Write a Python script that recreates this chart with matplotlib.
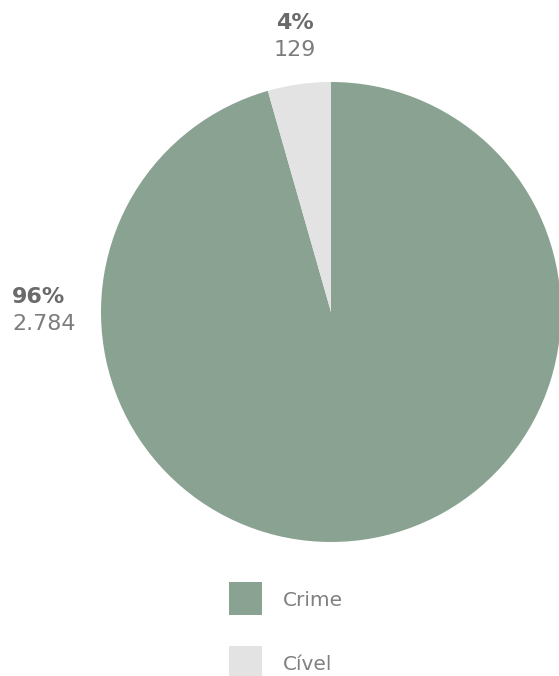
import matplotlib.pyplot as plt
from matplotlib.patches import Rectangle

categorias = ["Crime", "Cível"]
valores = [2784, 129]
cores = ["#8aa291", "#e3e3e3"]

W, H = 559, 676
plt.rcParams['font.family'] = ['DejaVu Sans']

fig = plt.figure(figsize=(W / 100, H / 100), dpi=100)

# eixo da pizza: centro em (331, 312) px, raio 230 px
cx, cy, r = 331, 312, 230
ax = fig.add_axes([(cx - r) / W, 1 - (cy + r) / H, 2 * r / W, 2 * r / H])
wedges, _ = ax.pie(valores, colors=cores, startangle=90, counterclock=False,
                   radius=1, wedgeprops=dict(linewidth=0))
for w in wedges:
    w.set_clip_on(False)
ax.set_xlim(-1, 1)
ax.set_ylim(-1, 1)
ax.set_aspect('equal')
ax.axis('off')

total = sum(valores)
pct = [round(v / total * 100) for v in valores]


def fmt(v):
    return f"{v:,}".replace(",", ".")


def px(x, y):
    return x / W, 1 - y / H


cor_pct = "#6a6a6a"
cor_num = "#7c7c7c"
# rótulo Cível (acima)
fig.text(*px(295, 23), f"{pct[1]}%", ha='center', va='center',
         fontsize=16, fontweight='bold', color=cor_pct)
fig.text(*px(295, 50), fmt(valores[1]), ha='center', va='center',
         fontsize=16, color=cor_num)
# rótulo Crime (esquerda)
fig.text(*px(12, 297), f"{pct[0]}%", ha='left', va='center',
         fontsize=16, fontweight='bold', color=cor_pct)
fig.text(*px(12, 324), fmt(valores[0]), ha='left', va='center',
         fontsize=16, color=cor_num)

# legenda
leg_y = [582, 646]
for nome, cor, y in zip(categorias, cores, leg_y):
    x0, y0 = px(229, y + 33)
    fig.add_artist(Rectangle((x0, y0), 33 / W, 33 / H, facecolor=cor,
                             edgecolor='none', transform=fig.transFigure))
    fig.text(*px(283, y + 19), nome, ha='left', va='center',
             fontsize=14.5, color="#808080")

fig.savefig("out.png", dpi=100)
